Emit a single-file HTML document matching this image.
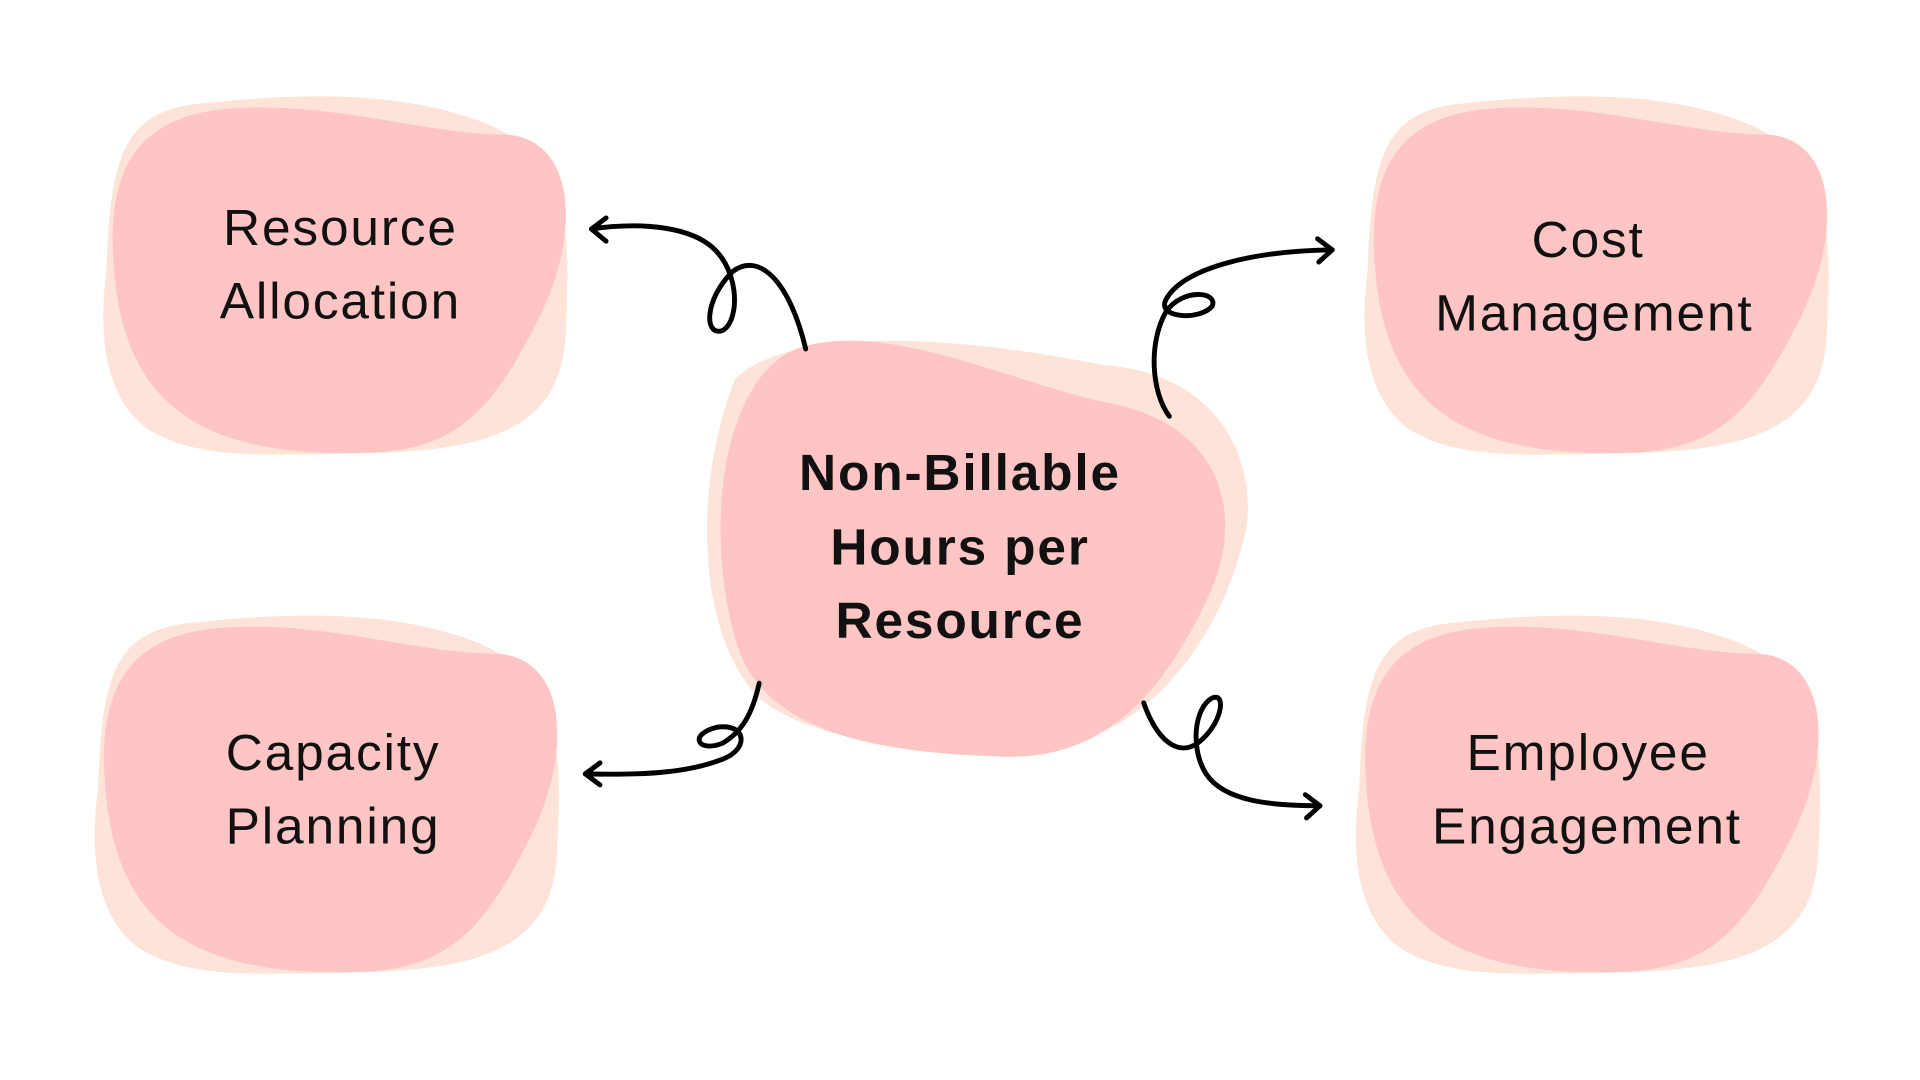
<!DOCTYPE html>
<html><head><meta charset="utf-8"><style>
html,body{margin:0;padding:0;background:#fff;width:1920px;height:1080px;overflow:hidden}
svg{display:block}
text{font-family:"Liberation Sans",sans-serif;fill:#111;text-anchor:middle}
</style></head><body>
<svg width="1920" height="1080" viewBox="0 0 1568 882" xmlns="http://www.w3.org/2000/svg">
<defs>
<path id="pk" d="M 160,85 C 250,75 330,75 395,100 C 470,130 465,200 462,270 C 460,350 400,368 300,370 C 210,372 160,375 120,350 C 80,320 82,260 87,220 C 90,130 100,92 160,85 Z" fill="#fde3d8"/>
<path id="pn" d="M 200,88 C 280,85 350,110 415,110 C 470,115 475,190 440,260 C 400,340 370,370 290,370 C 150,372 95,320 92,200 C 90,110 140,90 200,88 Z" fill="#fec5c4"/>
</defs>
<g><use href="#pk"/><use href="#pn"/></g>
<g transform="translate(1030,0)"><use href="#pk"/><use href="#pn"/></g>
<g transform="translate(-7,424)"><use href="#pk"/><use href="#pn"/></g>
<g transform="translate(1023,424)"><use href="#pk"/><use href="#pn"/></g>
<path d="M 600,310 C 640,270 760,270 900,298 C 1000,305 1025,380 1018,430 C 1000,520 940,590 880,605 C 780,625 660,605 620,570 C 570,520 565,400 600,310 Z" fill="#fde3d8"/>
<path d="M 650,285 C 720,260 820,310 900,328 C 1000,345 1015,420 990,480 C 950,570 900,620 820,618 C 720,615 620,600 600,520 C 575,430 590,310 650,285 Z" fill="#fec5c4"/>
<g fill="none" stroke="#000" stroke-width="4" stroke-linecap="round" stroke-linejoin="round">
<path d="M 658,285 C 645,230 620,205 598,222 C 575,245 575,275 590,270 C 605,262 605,215 575,197 C 550,182 510,183 483,187"/>
<path d="M 495,178 L 483,187 L 495,197"/>
<path d="M 955,340 C 940,320 938,280 952,255 C 965,235 995,238 990,250 C 980,262 945,260 952,245 C 965,220 1020,205 1088,204"/>
<path d="M 1076,195 L 1088,204 L 1077,214"/>
<path d="M 620,558 C 614,585 605,598 590,607 C 570,615 562,600 585,594 C 610,590 612,612 590,620 C 560,632 520,633 478,632"/>
<path d="M 490,623 L 478,632 L 490,641"/>
<path d="M 934,574 C 945,605 962,618 978,607 C 998,592 1002,565 990,570 C 975,578 972,612 985,632 C 1000,655 1040,658 1078,658"/>
<path d="M 1066,649 L 1078,658 L 1067,668"/>
</g>
<g font-size="42" letter-spacing="1.5">
<text x="278" y="200">Resource</text><text x="278" y="260">Allocation</text>
<text x="1297" y="210">Cost</text><text x="1302" y="270">Management</text>
<text x="272" y="629">Capacity</text><text x="272" y="689">Planning</text>
<text x="1297" y="629">Employee</text><text x="1296" y="689">Engagement</text>
</g>
<g font-size="42" font-weight="bold" letter-spacing="1.5">
<text x="784" y="400">Non-Billable</text>
<text x="784" y="461">Hours per</text>
<text x="784" y="521">Resource</text>
</g>
</svg>
</body></html>
